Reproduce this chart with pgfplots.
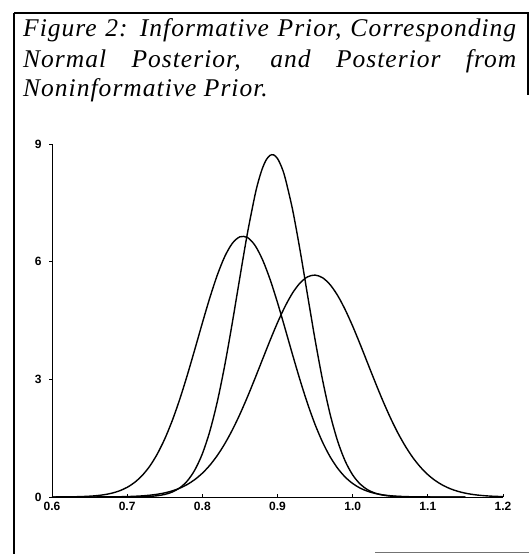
\documentclass[border=0pt]{standalone}
\usepackage{fontspec}
\setmainfont{Liberation Serif}
\setsansfont{Liberation Sans}
\usepackage{pgfplots}
\pgfplotsset{compat=1.18}
\begin{document}
\begin{tikzpicture}[x=1pt,y=1pt]
% frame of the scanned figure
\draw[line width=1.4pt] (14,541) -- (14,0);
\draw[line width=1.1pt] (14,541) -- (528,541) -- (528,459);
\draw[line width=0.9pt, black!55] (375,2) -- (529,2);
% title
\begin{scope}[every node/.style={anchor=base west, inner sep=0pt, font=\fontsize{25.5}{30}\selectfont\itshape\addfontfeature{LetterSpace=4}}]
\node at (23,517) {\makebox[493pt][s]{Figure 2: Informative Prior, Corresponding}};
\node at (23,486) {\makebox[493pt][s]{Normal Posterior, and Posterior from}};
\node at (23,457) {Noninformative Prior.};
\end{scope}
\begin{axis}[
  at={(52pt,57pt)}, anchor=south west,
  scale only axis, width=451pt, height=353pt,
  xmin=0.6, xmax=1.2, ymin=0, ymax=9,
  axis x line*=bottom, axis y line*=left,
  axis line style={line width=0.9pt},
  xtick={0.6,0.7,0.8,0.9,1.0,1.1,1.2},
  xticklabels={0.6,0.7,0.8,0.9,1.0,1.1,1.2},
  ytick={0,3,6,9}, yticklabels={0,3,6,9},
  xtick align=inside, ytick align=outside,
  major tick length=3pt,
  tick style={line width=0.8pt, black},
  ticklabel style={font=\sffamily\bfseries\fontsize{12}{12}\selectfont},
  xticklabel style={yshift=-2pt},
  yticklabel style={xshift=-4pt},
  clip=false,
]
% informative prior
\addplot[black, line width=1.4pt, smooth] coordinates {
(0.60,0.0009)(0.61,0.0017)(0.62,0.0033)(0.63,0.0063)(0.64,0.0115)(0.65,0.0205)
(0.66,0.0357)(0.67,0.0603)(0.68,0.0992)(0.69,0.1585)(0.70,0.2466)(0.71,0.3732)
(0.72,0.549)(0.73,0.785)(0.74,1.094)(0.75,1.481)(0.76,1.949)(0.77,2.495)
(0.78,3.108)(0.79,3.764)(0.80,4.435)(0.81,5.081)(0.82,5.663)(0.83,6.138)
(0.84,6.470)(0.85,6.634)(0.86,6.616)(0.87,6.417)(0.88,6.053)(0.89,5.554)
(0.90,4.956)(0.91,4.301)(0.92,3.631)(0.93,2.981)(0.94,2.380)(0.95,1.849)
(0.96,1.396)(0.97,1.026)(0.98,0.733)(0.99,0.509)(1.00,0.344)(1.01,0.226)
(1.02,0.145)(1.03,0.090)(1.04,0.0545)(1.05,0.032)(1.06,0.0183)(1.07,0.0102)
(1.08,0.0055)(1.09,0.0029)(1.10,0.0015)(1.12,0.0004)(1.15,0.0)
};
% corresponding normal posterior
\addplot[black, line width=1.4pt, smooth] coordinates {
(0.65,0.0)(0.70,0.0012)(0.71,0.0029)(0.72,0.0067)(0.73,0.0151)(0.74,0.0321)
(0.75,0.0653)(0.76,0.1265)(0.77,0.2333)(0.78,0.410)(0.79,0.6885)(0.80,1.101)
(0.81,1.678)(0.82,2.437)(0.83,3.376)(0.84,4.456)(0.85,5.608)(0.86,6.726)
(0.87,7.692)(0.875,8.079)(0.88,8.384)(0.885,8.597)(0.89,8.711)(0.895,8.722)
(0.90,8.628)(0.905,8.434)(0.91,8.147)(0.92,7.332)(0.93,6.291)(0.94,5.145)
(0.95,4.010)(0.96,2.980)(0.97,2.111)(0.98,1.426)(0.99,0.918)(1.00,0.563)
(1.01,0.3295)(1.02,0.1837)(1.03,0.0976)(1.04,0.0494)(1.05,0.0239)(1.06,0.011)
(1.07,0.0048)(1.08,0.002)(1.09,0.0008)(1.10,0.0003)(1.15,0.0)
};
% posterior from noninformative prior
\addplot[black, line width=1.4pt, smooth] coordinates {
(0.60,0.0)(0.62,0.0001)(0.64,0.0004)(0.65,0.0007)(0.66,0.0013)(0.67,0.0022)
(0.68,0.0039)(0.69,0.0066)(0.70,0.0111)(0.71,0.0181)(0.72,0.0289)(0.73,0.0454)
(0.74,0.0699)(0.75,0.1054)(0.76,0.1556)(0.77,0.2254)(0.78,0.3199)(0.79,0.445)
(0.80,0.6066)(0.81,0.8103)(0.82,1.061)(0.83,1.362)(0.84,1.712)(0.85,2.111)
(0.86,2.551)(0.87,3.021)(0.88,3.505)(0.89,3.987)(0.90,4.445)(0.91,4.856)
(0.92,5.200)(0.93,5.457)(0.94,5.613)(0.95,5.658)(0.96,5.590)(0.97,5.413)
(0.98,5.138)(0.99,4.778)(1.00,4.356)(1.01,3.892)(1.02,3.408)(1.03,2.925)
(1.04,2.460)(1.05,2.028)(1.06,1.638)(1.07,1.298)(1.08,1.007)(1.09,0.766)
(1.10,0.571)(1.11,0.417)(1.12,0.2987)(1.13,0.2096)(1.14,0.1441)(1.15,0.0972)
(1.16,0.0642)(1.17,0.0416)(1.18,0.0264)(1.19,0.0164)(1.20,0.0100)
};
\end{axis}
\pgfresetboundingbox
\path[use as bounding box] (0,0) rectangle (529,554);
\end{tikzpicture}
\end{document}
